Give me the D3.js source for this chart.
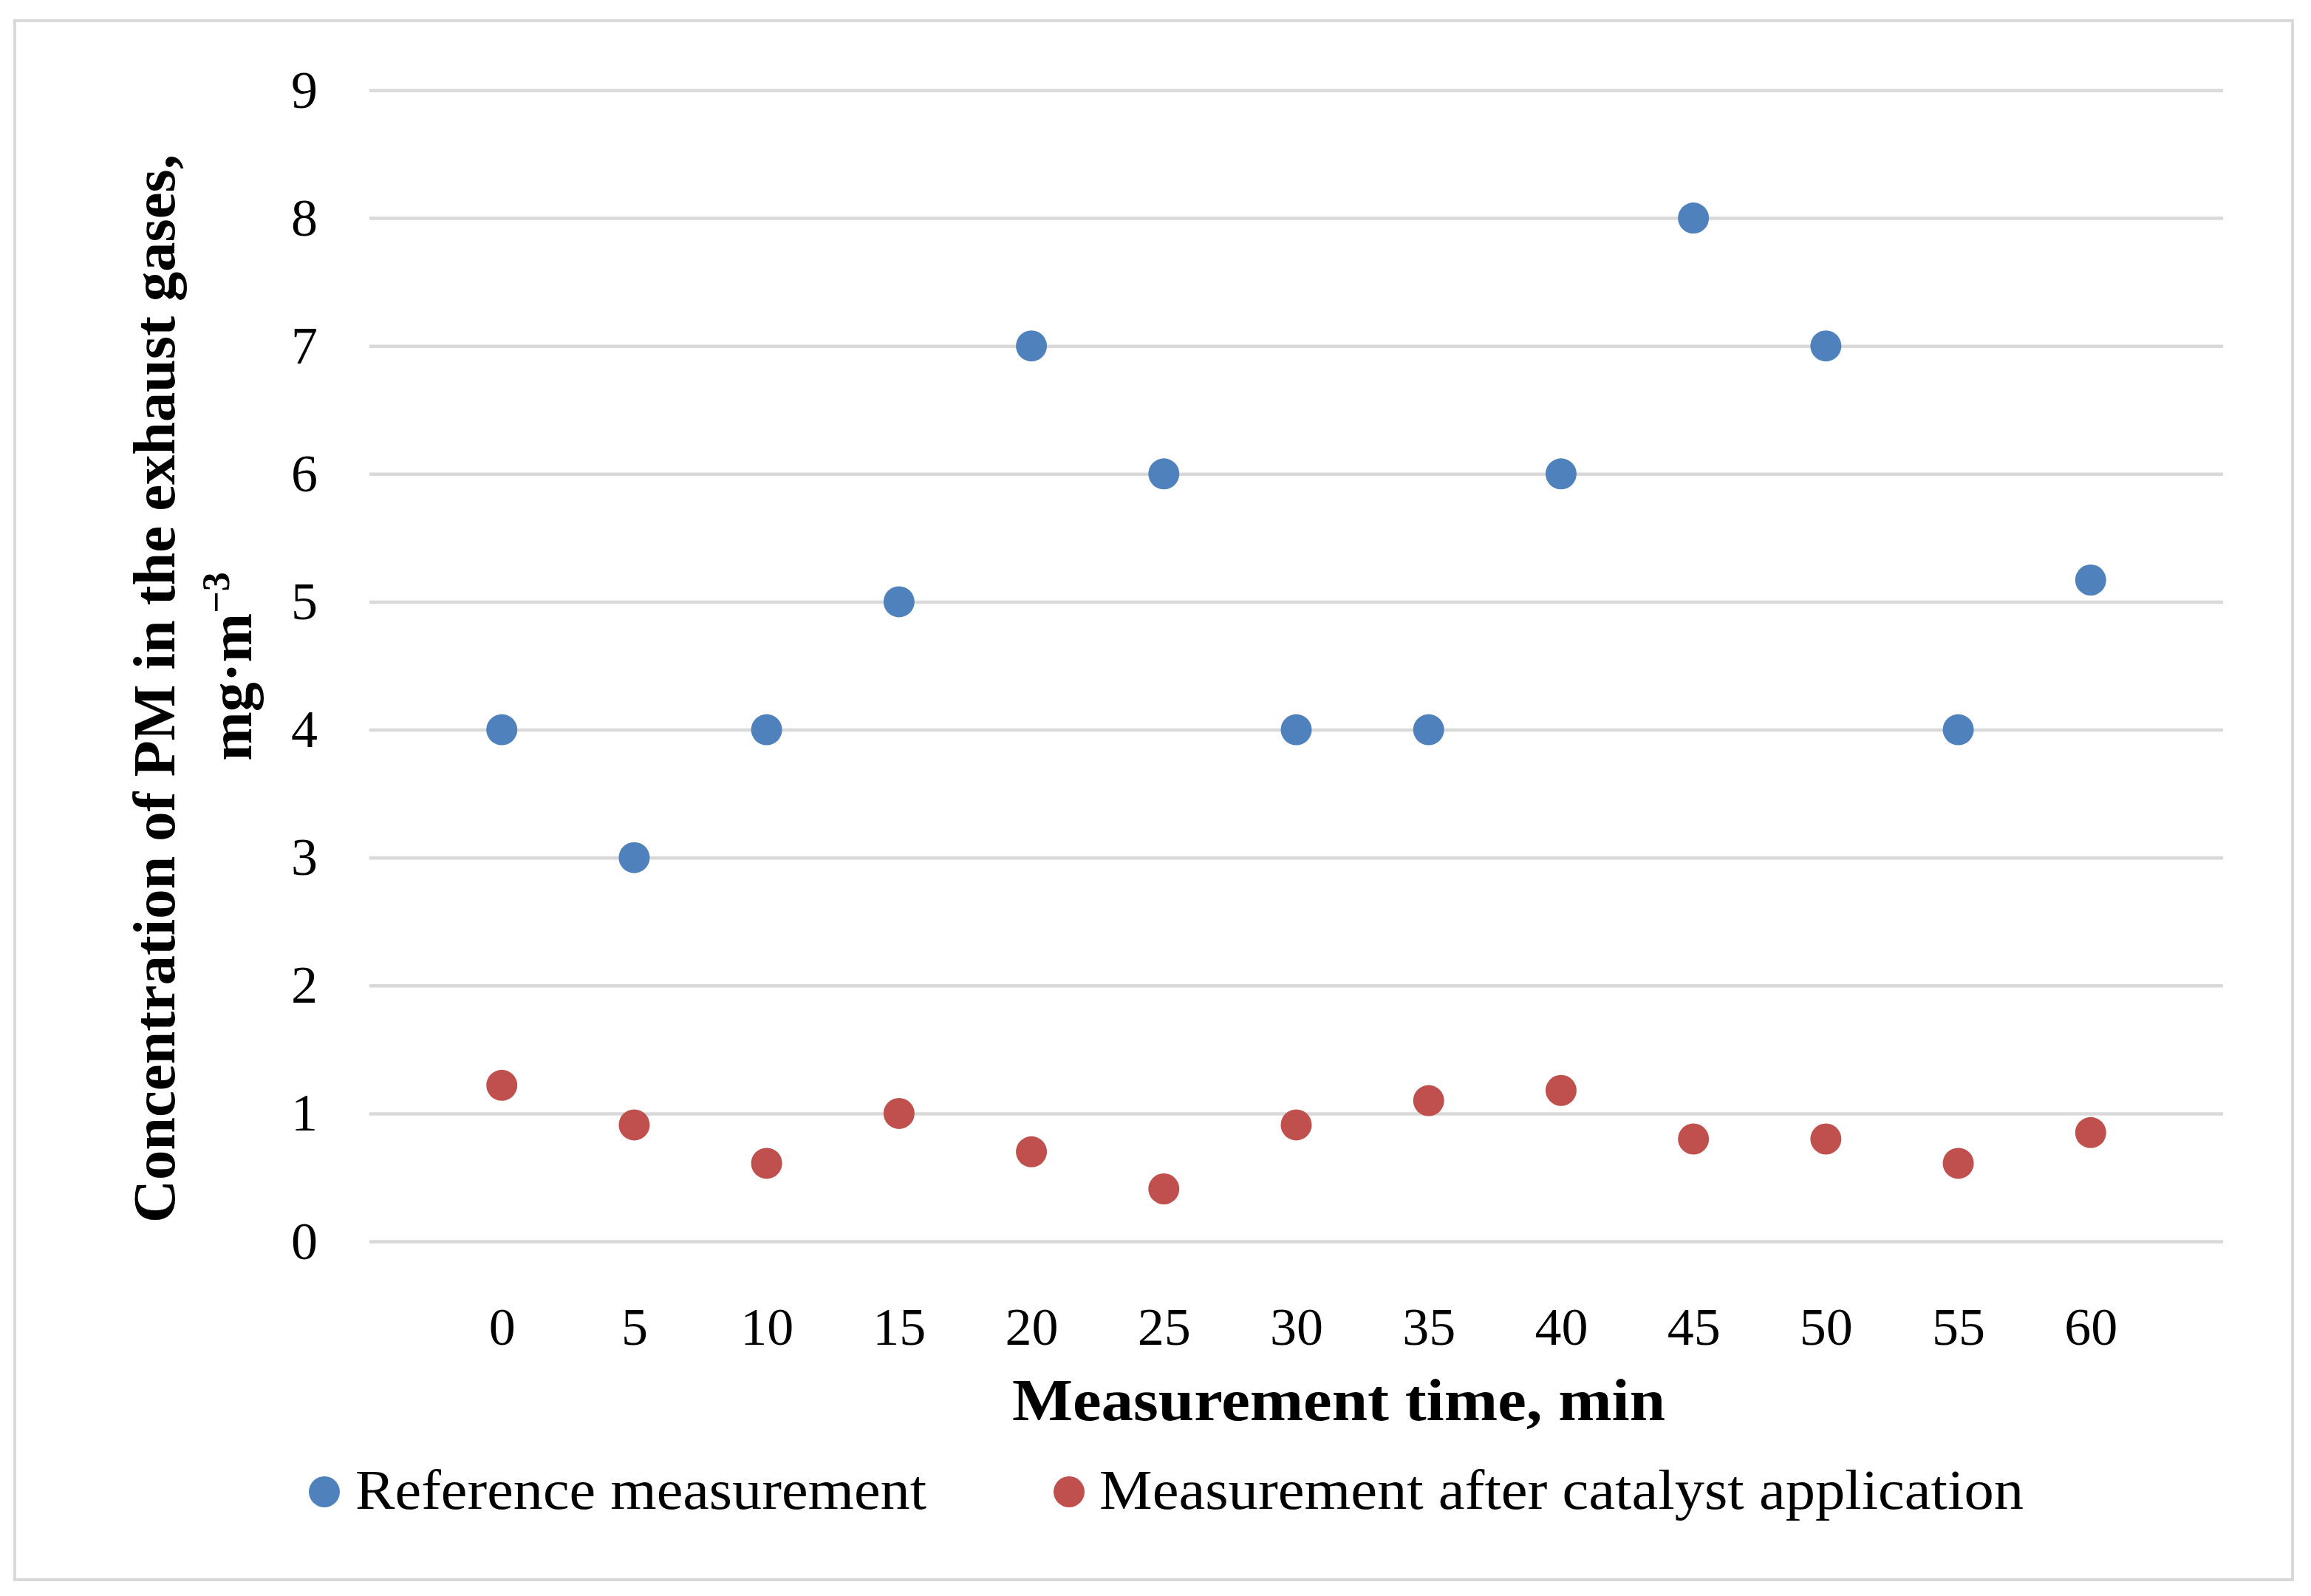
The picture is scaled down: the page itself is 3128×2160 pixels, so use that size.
<!DOCTYPE html>
<html>
<head>
<meta charset="utf-8">
<script src="https://cdn.jsdelivr.net/npm/d3@7"></script>
<style>
  html, body { margin: 0; padding: 0; background: #fff; }
  svg { display: block; }
  text { font-family: 'Liberation Serif', 'DejaVu Serif', serif; fill: #000; }
</style>
</head>
<body>
<svg id="chart"></svg>
<script>
// measurement times, min
const times = [0, 5, 10, 15, 20, 25, 30, 35, 40, 45, 50, 55, 60];
// PM concentration, mg·m-3
const referenceValues = [4, 3, 4, 5, 7, 6, 4, 4, 6, 8, 7, 4, 5.17];
const catalystValues = [1.22, 0.91, 0.61, 1.0, 0.70, 0.41, 0.91, 1.10, 1.18, 0.80, 0.80, 0.61, 0.85];
const yTicks = [0, 1, 2, 3, 4, 5, 6, 7, 8, 9];
const seriesNames = ['Reference measurement', 'Measurement after catalyst application'];
const seriesColors = ['#4F81BD', '#C0504D'];

const config = {
	width: 3128,
	height: 2160,
	plot: { left: 500, right: 3009, top: 122, bottom: 1680 },
	grid: '#d9d9d9',
	dotRadius: 21
};

const svg = d3.select('#chart')
	.attr('width', config.width)
	.attr('height', config.height);

// outer frame
svg.append('rect')
	.attr('x', 20).attr('y', 28)
	.attr('width', 3083).attr('height', 2110)
	.attr('fill', '#fff')
	.attr('stroke', config.grid)
	.attr('stroke-width', 4);

const x = d3.scaleLinear().domain([-5, 65]).range([config.plot.left, config.plot.right]);
const y = d3.scaleLinear().domain([0, 9]).range([config.plot.bottom, config.plot.top]);

// horizontal gridlines + y labels
const yAxis = d3.axisLeft(y)
	.tickValues(yTicks)
	.tickSize(-(config.plot.right - config.plot.left))
	.tickPadding(70)
	.tickFormat(d3.format('d'));

const gy = svg.append('g')
	.attr('transform', `translate(${config.plot.left},0)`)
	.call(yAxis);
gy.select('.domain').remove();
gy.selectAll('.tick line').attr('stroke', config.grid).attr('stroke-width', 4.5);
gy.selectAll('.tick text')
	.attr('font-size', 72)
	.attr('font-family', "'Liberation Serif', serif")
	.attr('fill', '#000');

// x labels (no ticks, no line)
const xAxis = d3.axisBottom(x)
	.tickValues(times)
	.tickSize(0)
	.tickPadding(0)
	.tickFormat(d3.format('d'));

const gx = svg.append('g')
	.attr('transform', `translate(0,${config.plot.bottom})`)
	.call(xAxis);
gx.select('.domain').remove();
gx.selectAll('.tick text')
	.attr('y', 140)
	.attr('dy', null)
	.attr('font-size', 72)
	.attr('font-family', "'Liberation Serif', serif")
	.attr('fill', '#000');

// points
const series = [referenceValues, catalystValues];
series.forEach((vals, i) => {
	svg.append('g')
		.selectAll('circle')
		.data(vals.map((v, j) => ({ t: times[j], v })))
		.enter()
		.append('circle')
		.attr('cx', d => x(d.t))
		.attr('cy', d => y(d.v))
		.attr('r', config.dotRadius)
		.attr('fill', seriesColors[i]);
});

// axis titles
svg.append('text')
	.attr('x', 1812).attr('y', 1922)
	.attr('text-anchor', 'middle')
	.attr('font-size', 80)
	.attr('font-weight', 'bold')
	.attr('textLength', 884)
	.attr('lengthAdjust', 'spacingAndGlyphs')
	.text('Measurement time, min');

svg.append('text')
	.attr('transform', 'translate(236,932) rotate(-90)')
	.attr('text-anchor', 'middle')
	.attr('font-size', 80)
	.attr('font-weight', 'bold')
	.attr('textLength', 1446)
	.attr('lengthAdjust', 'spacingAndGlyphs')
	.text('Concentration of PM in the exhaust gases,');

const unit = svg.append('text')
	.attr('transform', 'translate(340,902) rotate(-90)')
	.attr('text-anchor', 'middle')
	.attr('font-size', 80)
	.attr('font-weight', 'bold');
unit.append('tspan').text('mg·m');
unit.append('tspan')
	.attr('font-size', 52)
	.attr('dy', -30)
	.text('−3');

// legend
const legendItems = [
	{ cx: 439, tx: 481, width: 773 },
	{ cx: 1447, tx: 1488, width: 1251 }
];
const legend = svg.append('g')
	.selectAll('g')
	.data(seriesNames)
	.enter()
	.append('g');

legend.append('circle')
	.attr('cx', (d, i) => legendItems[i].cx)
	.attr('cy', 2019)
	.attr('r', config.dotRadius)
	.attr('fill', (d, i) => seriesColors[i]);

legend.append('text')
	.attr('x', (d, i) => legendItems[i].tx)
	.attr('y', 2042)
	.attr('font-size', 76)
	.attr('textLength', (d, i) => legendItems[i].width)
	.attr('lengthAdjust', 'spacingAndGlyphs')
	.text(d => d);
</script>
</body>
</html>
